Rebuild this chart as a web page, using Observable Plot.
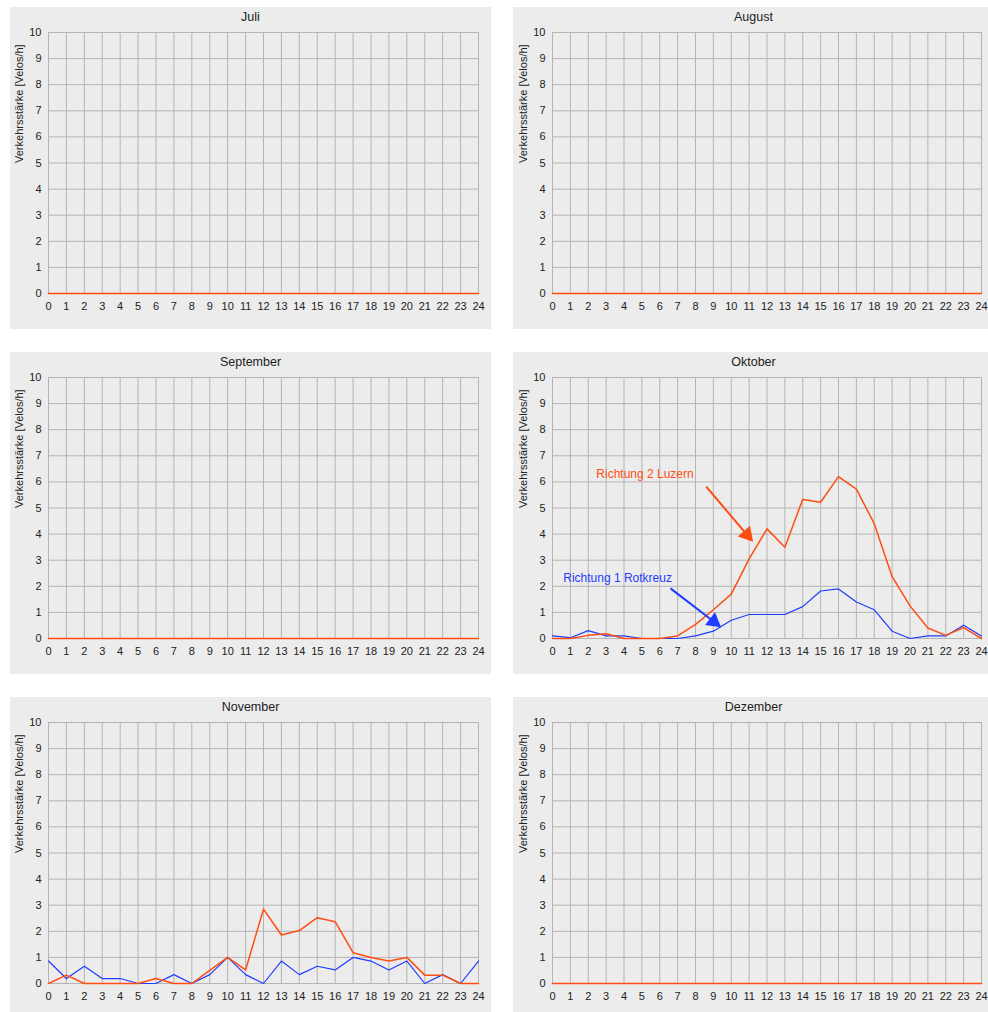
<!DOCTYPE html>
<html>
<head>
<meta charset="utf-8">
<script src="https://cdn.jsdelivr.net/npm/d3@7"></script>
<script src="https://cdn.jsdelivr.net/npm/@observablehq/plot@0.6"></script>
<style>
  body { margin: 0; width: 988px; height: 1012px; overflow: hidden; background: #fff; position: relative;
         font-family: "Liberation Sans", Arial, sans-serif; }
  .panel { position: absolute; width: 481px; height: 322px; background: #ececec; }
  .panel .title { position: absolute; left: 0; right: 0; top: 3px; text-align: center; font-size: 12.5px; font-weight: normal; line-height: 14px; color: #222; }
  .panel svg { position: absolute; left: 0; top: 0; }
</style>
</head>
<body>
<script>
// ---- data ----
const months = ["Juli", "August", "September", "Oktober", "November", "Dezember"];
const hours = [0, 1, 2, 3, 4, 5, 6, 7, 8, 9, 10, 11, 12, 13, 14, 15, 16, 17, 18, 19, 20, 21, 22, 23, 24];
const yTicks = [0, 1, 2, 3, 4, 5, 6, 7, 8, 9, 10];

const juliR1      = [0,0,0,0,0,0,0,0,0,0,0,0,0,0,0,0,0,0,0,0,0,0,0,0,0];
const juliR2      = [0,0,0,0,0,0,0,0,0,0,0,0,0,0,0,0,0,0,0,0,0,0,0,0,0];
const augustR1    = [0,0,0,0,0,0,0,0,0,0,0,0,0,0,0,0,0,0,0,0,0,0,0,0,0];
const augustR2    = [0,0,0,0,0,0,0,0,0,0,0,0,0,0,0,0,0,0,0,0,0,0,0,0,0];
const septemberR1 = [0,0,0,0,0,0,0,0,0,0,0,0,0,0,0,0,0,0,0,0,0,0,0,0,0];
const septemberR2 = [0,0,0,0,0,0,0,0,0,0,0,0,0,0,0,0,0,0,0,0,0,0,0,0,0];
const oktoberR1   = [0.1,0.03,0.3,0.1,0.1,0,0,0,0.1,0.28,0.7,0.92,0.92,0.92,1.22,1.82,1.9,1.4,1.1,0.28,0,0.1,0.1,0.51,0.1];
const oktoberR2   = [0,0,0.12,0.18,0,0,0,0.1,0.54,1.1,1.7,3.05,4.2,3.5,5.33,5.22,6.2,5.72,4.4,2.37,1.25,0.4,0.12,0.42,0];
const novemberR1  = [0.86,0.19,0.66,0.19,0.19,0,0,0.34,0,0.34,1.0,0.34,0,0.86,0.34,0.66,0.52,1.0,0.86,0.52,0.86,0,0.34,0,0.86];
const novemberR2  = [0,0.32,0,0,0,0,0.19,0,0,0.5,1.0,0.52,2.85,1.86,2.03,2.52,2.37,1.18,1.0,0.86,1.0,0.32,0.32,0,0];
const dezemberR1  = [0,0,0,0,0,0,0,0,0,0,0,0,0,0,0,0,0,0,0,0,0,0,0,0,0];
const dezemberR2  = [0,0,0,0,0,0,0,0,0,0,0,0,0,0,0,0,0,0,0,0,0,0,0,0,0];

const seriesR1 = [juliR1, augustR1, septemberR1, oktoberR1, novemberR1, dezemberR1];
const seriesR2 = [juliR2, augustR2, septemberR2, oktoberR2, novemberR2, dezemberR2];

const yLabel = "Verkehrsstärke [Velos/h]";
const label1 = "Richtung 1 Rotkreuz";
const label2 = "Richtung 2 Luzern";

// ---- styling / layout ----
const BLUE = "#1f3cff";
const ORANGE = "#ff4d12";
const GRID = "#b4b4b4";
const panelLeft = [10, 513];
const panelTop = [7, 352, 697];

months.forEach((m, i) => {
  const col = i % 2, row = Math.floor(i / 2);
  const div = document.createElement("div");
  div.className = "panel";
  div.style.left = panelLeft[col] + "px";
  div.style.top = panelTop[row] + "px";
  const t = document.createElement("div");
  t.className = "title";
  t.textContent = m;

  const rows = hours.map((h, k) => ({hour: h, r1: seriesR1[i][k], r2: seriesR2[i][k]}));

  const marks = [
    Plot.gridX(hours, {stroke: GRID, strokeOpacity: 1, strokeWidth: 1}),
    Plot.gridY(yTicks, {stroke: GRID, strokeOpacity: 1, strokeWidth: 1}),
    Plot.axisX(hours, {tickSize: 0, tickPadding: 9, label: null, tickFormat: d => String(d), fill: "#222", fontSize: 11}),
    Plot.axisY(yTicks, {tickSize: 0, tickPadding: 7, label: null, fill: "#222", fontSize: 11}),
    Plot.text([yLabel], {frameAnchor: "left", rotate: -90, dx: -29, fontSize: 11, fill: "#222", text: d => d}),
    Plot.line(rows, {x: "hour", y: "r1", stroke: BLUE, strokeWidth: 1.2}),
    Plot.line(rows, {x: "hour", y: "r2", stroke: ORANGE, strokeWidth: 1.5})
  ];

  if (m === "Oktober") {
    marks.push(
      Plot.text([label2], {x: 2.45, y: 6.28, text: d => d, textAnchor: "start", fill: ORANGE, fontSize: 12}),
      Plot.text([label1], {x: 0.6, y: 2.3, text: d => d, textAnchor: "start", fill: BLUE, fontSize: 12}),
      Plot.link([0], {x1: 8.6, y1: 5.82, x2: 10.85, y2: 4.0, stroke: ORANGE, strokeWidth: 2}),
      Plot.dot([0], {x: 10.88, y: 3.98, symbol: "triangle", r: 6, fill: ORANGE, stroke: "none", rotate: 139}),
      Plot.link([0], {x1: 6.6, y1: 1.92, x2: 8.98, y2: 0.67, stroke: BLUE, strokeWidth: 2}),
      Plot.dot([0], {x: 9.02, y: 0.65, symbol: "triangle", r: 6, fill: BLUE, stroke: "none", rotate: 128})
    );
  }

  const svg = Plot.plot({
    width: 481,
    height: 322,
    marginTop: 25,
    marginBottom: 36,
    marginLeft: col === 0 ? 38 : 39,
    marginRight: 13,
    style: {background: "transparent", fontFamily: "'Liberation Sans', Arial, sans-serif", fontSize: "11px", color: "#222", overflow: "visible"},
    x: {domain: [0, 24]},
    y: {domain: [0, 10]},
    marks
  });
  div.appendChild(svg);
  div.appendChild(t);
  document.body.appendChild(div);
});
</script>
</body>
</html>
